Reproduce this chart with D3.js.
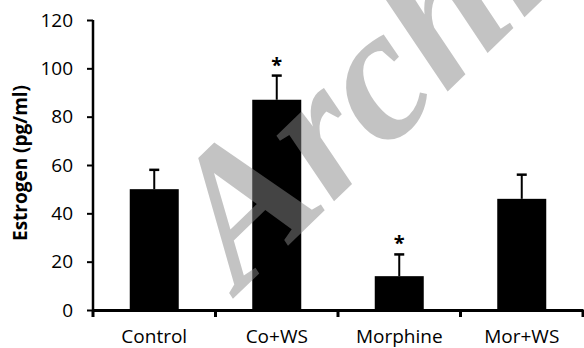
<!DOCTYPE html>
<html>
<head>
<meta charset="utf-8">
<script src="https://cdn.jsdelivr.net/npm/d3@7"></script>
<style>
  html, body { margin: 0; padding: 0; background: #fff; }
  svg { display: block; }
</style>
</head>
<body>
<svg id="chart" width="584" height="348"></svg>
<script>
// Estrogen levels per treatment group (mean and error)
const groups = ["Control", "Co+WS", "Morphine", "Mor+WS"];
const means = [50, 87, 14, 46];
const errors = [8, 10, 9, 10];
const significant = [false, true, true, false];
const yTicks = [0, 20, 40, 60, 80, 100, 120];

const W = 584, H = 348;
const margin = { left: 93, right: 1, top: 20, bottom: 38 };

const svg = d3.select("#chart");

const x = d3.scaleBand()
  .domain(groups)
  .range([margin.left, W - margin.right])
  .padding(0);

const y = d3.scaleLinear()
  .domain([0, 120])
  .range([H - margin.bottom, margin.top]);

const font = "'Open Sans', 'Noto Sans', sans-serif";
const barW = x.bandwidth() * 0.4;

// bars
svg.append("g")
  .selectAll("rect")
  .data(groups)
  .join("rect")
  .attr("x", (d) => x(d) + (x.bandwidth() - barW) / 2)
  .attr("y", (d, i) => y(means[i]))
  .attr("width", barW)
  .attr("height", (d, i) => y(0) - y(means[i]))
  .attr("fill", "#000");

// error bars (upper only)
const eb = svg.append("g").attr("stroke", "#000").attr("stroke-width", 2);
groups.forEach((g, i) => {
  const cx = x(g) + x.bandwidth() / 2;
  eb.append("line")
    .attr("x1", cx).attr("x2", cx)
    .attr("y1", y(means[i])).attr("y2", y(means[i] + errors[i]));
  eb.append("line")
    .attr("x1", cx - 5).attr("x2", cx + 5)
    .attr("y1", y(means[i] + errors[i])).attr("y2", y(means[i] + errors[i]))
    .attr("stroke-width", 2.5);
});

// significance marks
svg.append("g")
  .selectAll("text")
  .data(groups.filter((g, i) => significant[i]))
  .join("text")
  .attr("x", (d) => x(d) + x.bandwidth() / 2)
  .attr("y", (d) => y(means[groups.indexOf(d)] + errors[groups.indexOf(d)]) - 4)
  .attr("text-anchor", "middle")
  .attr("font-family", font)
  .attr("font-size", 20)
  .attr("font-weight", "bold")
  .text("*");

// y axis
const yAxis = svg.append("g")
  .attr("transform", `translate(${margin.left},0)`)
  .call(d3.axisLeft(y).tickValues(yTicks).tickSize(6).tickPadding(14));
yAxis.select(".domain").attr("stroke-width", 2.5).attr("d", `M0,${y(120)}V${y(0)}`);
yAxis.selectAll(".tick line").attr("stroke-width", 2);
yAxis.selectAll(".tick text")
  .attr("font-family", font)
  .attr("font-size", 19)
  .attr("fill", "#000");

// x axis: labels centred on bands, ticks on band boundaries
const xAxis = svg.append("g")
  .attr("transform", `translate(0,${y(0)})`)
  .call(d3.axisBottom(x).tickSize(0));
xAxis.select(".domain").attr("stroke-width", 3);
xAxis.selectAll(".tick text")
  .attr("font-family", font)
  .attr("font-size", 19)
  .attr("fill", "#000")
  .attr("y", 33)
  .attr("dy", 0);

const bounds = groups.map((g) => x(g)).concat([x(groups[groups.length - 1]) + x.bandwidth()]);
xAxis.selectAll(".bound")
  .data(bounds)
  .join("line")
  .attr("class", "bound")
  .attr("x1", (d) => d).attr("x2", (d) => d)
  .attr("y1", 0).attr("y2", 7)
  .attr("stroke", "#000")
  .attr("stroke-width", 3);

// y axis title
svg.append("text")
  .attr("transform", "translate(27,163) rotate(-90)")
  .attr("text-anchor", "middle")
  .attr("font-family", font)
  .attr("font-size", 19)
  .attr("font-weight", "bold")
  .text("Estrogen (pg/ml)");

// watermark
svg.append("text")
  .attr("transform", "translate(240,292) rotate(-44)")
  .attr("font-family", "'Liberation Serif', 'DejaVu Serif', serif")
  .attr("font-style", "italic")
  .attr("font-weight", "bold")
  .attr("font-size", 190)
  .attr("fill", "#888")
  .attr("fill-opacity", 0.5)
  .text("Archive");
</script>
</body>
</html>
